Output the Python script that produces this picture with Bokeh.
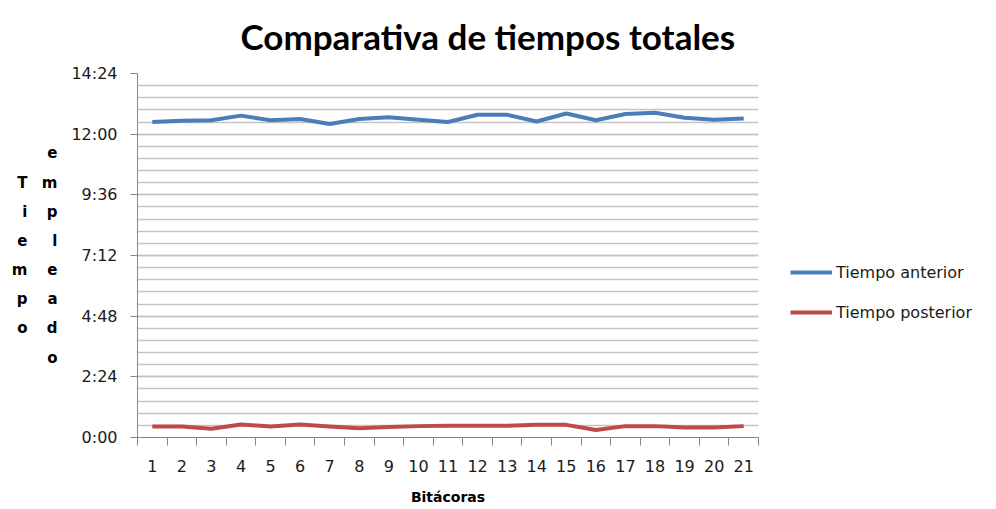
from bokeh.plotting import figure
from bokeh.models import (ColumnDataSource, FixedTicker, CustomJSTickFormatter,
                          Range1d, Legend, LegendItem, LinearAxis, Title)
from bokeh.embed import file_html
from bokeh.resources import INLINE

# ---- data (minutes) ----
bitacoras = list(range(1, 22))
tiempo_anterior = [749, 752, 753, 764, 753, 756, 744, 756, 760, 754, 749,
                   766, 766, 750, 769, 753, 768, 771, 759, 754, 757]
tiempo_posterior = [26, 26, 21, 31, 26, 31, 26, 22, 25, 27, 28,
                    28, 28, 30, 30, 18, 27, 27, 24, 24, 27]
y_ticks = [0, 144, 288, 432, 576, 720, 864]
y_minor = [i * 28.8 for i in range(0, 31)]
x_minor = [i + 0.5 for i in range(0, 22)]

title_text = "Comparativa de tiempos totales"
x_title = "Bitácoras"
y_title_1 = "T\ni\ne\nm\np\no"
y_title_2 = "e\nm\np\nl\ne\na\nd\no"

BLUE = "#4A7EBB"
RED = "#BE4B48"
GRID = "#C4C4C4"
AXIS = "#868686"

src = ColumnDataSource(dict(x=bitacoras, a=tiempo_anterior, b=tiempo_posterior))

p = figure(frame_width=621, frame_height=364, output_backend="svg", toolbar_location=None,
           title=None, x_range=Range1d(0.5, 21.5), y_range=Range1d(0, 864),
           min_border_left=137, min_border_right=238, min_border_top=72,
           min_border_bottom=73)
p.outline_line_color = None
p.background_fill_color = "white"
p.border_fill_color = "white"

r1 = p.line("x", "a", source=src, line_color=BLUE, line_width=4, line_join="round")
r2 = p.line("x", "b", source=src, line_color=RED, line_width=4, line_join="round")

# x axis
p.xaxis.ticker = FixedTicker(ticks=bitacoras, minor_ticks=x_minor)
p.xaxis.major_tick_line_color = None
p.xaxis.major_tick_out = 0
p.xaxis.major_tick_in = 0
p.xaxis.minor_tick_out = 8
p.xaxis.minor_tick_in = 0
p.xaxis.minor_tick_line_color = AXIS
p.xaxis.axis_line_color = AXIS
p.xaxis.major_label_standoff = 14
p.xaxis.major_label_text_font = "DejaVu Sans"
p.xaxis.major_label_text_font_size = "16px"
p.xaxis.major_label_text_color = "#1a1a1a"
p.xaxis.axis_label = x_title
p.xaxis.axis_label_standoff = 14
p.xaxis.axis_label_text_font = "DejaVu Sans"
p.xaxis.axis_label_text_font_style = "bold"
p.xaxis.axis_label_text_font_size = "14px"
p.xaxis.axis_label_text_color = "black"
p.xgrid.grid_line_color = None

# y axis
p.yaxis.ticker = FixedTicker(ticks=y_ticks, minor_ticks=y_minor)
p.yaxis.formatter = CustomJSTickFormatter(code="""
const t = Math.round(tick);
const h = Math.floor(t / 60);
const m = t % 60;
return h + ":" + (m < 10 ? "0" : "") + m;
""")
p.yaxis.major_tick_out = 7
p.yaxis.major_tick_in = 0
p.yaxis.major_tick_line_color = AXIS
p.yaxis.minor_tick_line_color = None
p.yaxis.axis_line_color = AXIS
p.yaxis.major_label_standoff = 13
p.yaxis.major_label_text_font = "DejaVu Sans"
p.yaxis.major_label_text_font_size = "16px"
p.yaxis.major_label_text_color = "#1a1a1a"
p.ygrid.grid_line_color = GRID
p.ygrid.minor_grid_line_color = GRID
p.ygrid.grid_line_width = 1.5
p.ygrid.minor_grid_line_width = 1.5

# stacked y-axis titles as extra label-only axes
for txt, standoff in ((y_title_2, 11), (y_title_1, 11)):
    ax = LinearAxis(axis_label=txt, ticker=FixedTicker(ticks=[]),
                    axis_line_color=None, major_tick_line_color=None,
                    minor_tick_line_color=None, major_label_text_font_size="0px",
                    axis_label_orientation="horizontal",
                    axis_label_standoff=standoff,
                    axis_label_text_font="DejaVu Sans",
                    axis_label_text_font_style="bold",
                    axis_label_text_font_size="15px",
                    axis_label_text_line_height=1.62,
                    axis_label_text_color="black")
    p.add_layout(ax, "left")

# title
p.add_layout(Title(text=title_text, align="left", offset=103, standoff=29,
                   vertical_align="top",
                   text_font="Lato", text_font_style="bold", text_font_size="35px",
                   text_color="black"), "above")

legend = Legend(items=[LegendItem(label="Tiempo anterior", renderers=[r1]),
                       LegendItem(label="Tiempo posterior", renderers=[r2])],
                location=(32, 115), margin=0, padding=0, spacing=20,
                glyph_width=42, glyph_height=20, label_height=20, label_standoff=4,
                label_text_font="DejaVu Sans", label_text_font_size="16px",
                label_text_color="#1a1a1a",
                border_line_color=None, background_fill_alpha=0)
p.add_layout(legend, "right")

open("out.html", "w").write(file_html(p, INLINE))
